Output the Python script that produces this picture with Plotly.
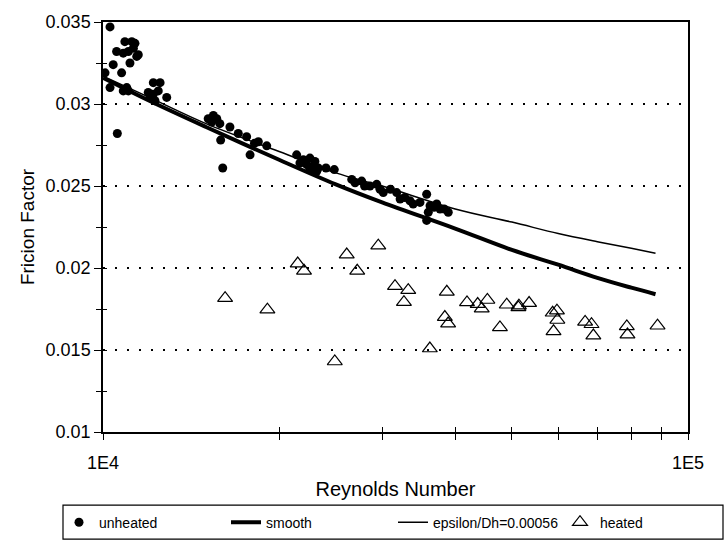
import plotly.graph_objects as go

# ---- data ----
unheated_re = [10280, 10900, 11200, 11340, 11270, 11050, 10550, 10830, 11490, 11420,
               10410, 11120, 10080, 10760, 10280, 10980, 11050, 10830, 10580,
               12190, 12520, 11950, 12190, 12430, 12850, 12270, 12030,
               15440, 15130, 15650, 15340, 15840, 16480, 15890, 17030, 17600, 18430,
               19050, 17840, 16020, 18150,
               21430, 22000, 22580, 23030, 22300, 22880, 23330, 21710, 22580, 23190,
               24050, 24850,
               26620, 27680, 26970, 28600, 29750, 29370, 30140, 31770, 32200, 33470,
               33900, 35750, 34820, 36230, 37190, 37680, 38920, 35980, 35750,
               31000, 28000, 32800, 36800, 38300]
unheated_f = [0.0347, 0.0338, 0.0338, 0.0337, 0.0334, 0.0332, 0.0332, 0.0331, 0.0330, 0.0329,
              0.0324, 0.0325, 0.0319, 0.0319, 0.0310, 0.0310, 0.0308, 0.0308, 0.0282,
              0.0313, 0.0313, 0.0307, 0.0306, 0.0308, 0.0304, 0.0302, 0.0304,
              0.0293, 0.0291, 0.0291, 0.0289, 0.0288, 0.0286, 0.0278, 0.0282, 0.0280, 0.0277,
              0.02745, 0.0269, 0.0261, 0.0276,
              0.0269, 0.0266, 0.0267, 0.0265, 0.0263, 0.0262, 0.0261, 0.0264, 0.0260, 0.0259,
              0.0261, 0.0260,
              0.0254, 0.0253, 0.0252, 0.0250, 0.0248, 0.0251, 0.0246, 0.0246, 0.0242, 0.0241,
              0.0239, 0.0245, 0.0240, 0.0238, 0.0239, 0.0236, 0.0234, 0.0234, 0.0229,
              0.0248, 0.0250, 0.0243, 0.0237, 0.0236]

heated_re = [16170, 19100, 21520, 22060, 26100, 27200, 29550, 24900, 31560, 33250,
             32690, 36200, 38700, 38400, 38900, 41900, 43700, 45400, 44400, 49000,
             51400, 51300, 53500, 47700, 58700, 59700, 59800, 58900, 66700, 68400,
             68900, 78600, 78800, 88700]
heated_f = [0.01816, 0.01746, 0.02027, 0.01983, 0.02082, 0.01983, 0.02136, 0.0143, 0.01889, 0.01865,
            0.01792, 0.01509, 0.01855, 0.01701, 0.01661, 0.0179, 0.0178, 0.01805, 0.01752, 0.01776,
            0.0177, 0.0176, 0.01786, 0.01638, 0.01727, 0.0174, 0.01683, 0.01614, 0.01671, 0.01657,
            0.01588, 0.01644, 0.01594, 0.01648]

curve_re = [10000, 12000, 15000, 20000, 25000, 30000, 40000, 50000, 60000, 70000, 80000, 88000]
smooth_f = [0.0316, 0.0302, 0.0286, 0.0266, 0.0251, 0.0240, 0.0224, 0.0211, 0.0202, 0.0194, 0.0188, 0.0184]
rough_f = [0.0317, 0.0304, 0.0288, 0.0271, 0.0258, 0.0250, 0.0236, 0.0228, 0.0221, 0.0216, 0.0212, 0.0209]

x_tickvals = [10000, 20000, 30000, 40000, 50000, 60000, 70000, 80000, 90000, 100000]
x_ticktext = ["1E4", "", "", "", "", "", "", "", "", "1E5"]
y_tickvals = [0.01, 0.015, 0.02, 0.025, 0.03, 0.035]
y_ticktext = ["0.01", "0.015", "0.02", "0.025", "0.03", "0.035"]

FONT = "Liberation Sans, Arial, sans-serif"

fig = go.Figure()
fig.add_trace(go.Scatter(x=unheated_re, y=unheated_f, mode="markers", name="unheated",
                         marker=dict(symbol="circle", size=9, color="black")))
fig.add_trace(go.Scatter(x=curve_re, y=smooth_f, mode="lines", name="smooth",
                         line=dict(color="black", width=4, shape="spline")))
fig.add_trace(go.Scatter(x=curve_re, y=rough_f, mode="lines", name="epsilon/Dh=0.00056",
                         line=dict(color="black", width=1.5, shape="spline")))
fig.add_trace(go.Scatter(x=heated_re, y=heated_f, mode="markers", name="heated",
                         marker=dict(symbol="triangle-up-open", size=13, color="black",
                                     line=dict(width=1.2, color="black"))))
# helper trace so the overlay axes (inner half of crossing ticks) get drawn
fig.add_trace(go.Scatter(x=[curve_re[0]], y=[smooth_f[0]], xaxis="x2", yaxis="y2",
                         mode="markers", marker=dict(opacity=0), showlegend=False,
                         hoverinfo="skip"))

fig.update_layout(
    width=727, height=551,
    margin=dict(l=103, r=39, t=16, b=114),
    paper_bgcolor="white", plot_bgcolor="white",
    font=dict(family=FONT, size=18, color="black"),
    showlegend=True,
    legend=dict(orientation="h", x=-0.018, y=-0.221, xanchor="left", yanchor="middle",
                font=dict(size=14), entrywidth=122, bgcolor="rgba(0,0,0,0)",
                itemwidth=30, tracegroupgap=0),
    xaxis=dict(type="log", range=[4, 5], tickmode="array", tickvals=x_tickvals,
               ticktext=x_ticktext, ticks="outside", ticklen=6, tickwidth=1.2,
               tickcolor="black", showline=True, linecolor="black", linewidth=1.5,
               mirror=True, showgrid=False, zeroline=False, ticklabelstandoff=8,
               title=dict(text="Reynolds Number", font=dict(size=20), standoff=10),
               tickfont=dict(size=18)),
    yaxis=dict(range=[0.01, 0.035], tickmode="array", tickvals=y_tickvals,
               ticktext=y_ticktext, ticks="outside", ticklen=7, tickwidth=1.2,
               tickcolor="black", showline=True, linecolor="black", linewidth=1.5,
               mirror=True, showgrid=True, gridcolor="black", gridwidth=2,
               griddash="2px,10px", zeroline=False,
               minor=dict(dtick=0.0025, tick0=0.01, ticks="outside", ticklen=5,
                          tickcolor="black", tickwidth=1.2, showgrid=False),
               title=dict(text="Fricion Factor", font=dict(size=19), standoff=6),
               tickfont=dict(size=18)),
    xaxis2=dict(type="log", range=[4, 5], overlaying="x", anchor="y2", side="bottom",
                tickmode="array", tickvals=x_tickvals, ticks="inside", ticklen=5,
                tickwidth=1.2, tickcolor="black", showticklabels=False,
                showline=False, showgrid=False, zeroline=False),
    yaxis2=dict(range=[0.01, 0.035], overlaying="y", anchor="x2", side="left",
                tickmode="array", tickvals=y_tickvals, ticks="inside", ticklen=4,
                tickwidth=1.2, tickcolor="black", showticklabels=False,
                minor=dict(dtick=0.0025, tick0=0.01, ticks="inside", ticklen=4,
                           tickcolor="black", tickwidth=1.2, showgrid=False),
                showline=False, showgrid=False, zeroline=False),
    shapes=[dict(type="rect", xref="paper", yref="paper",
                 x0=(63 - 103) / 585, x1=(723 - 103) / 585,
                 y0=(437 - 547) / 421, y1=(437 - 512) / 421,
                 line=dict(color="black", width=1.2), fillcolor="rgba(0,0,0,0)")],
)

fig.write_html("out.html")
